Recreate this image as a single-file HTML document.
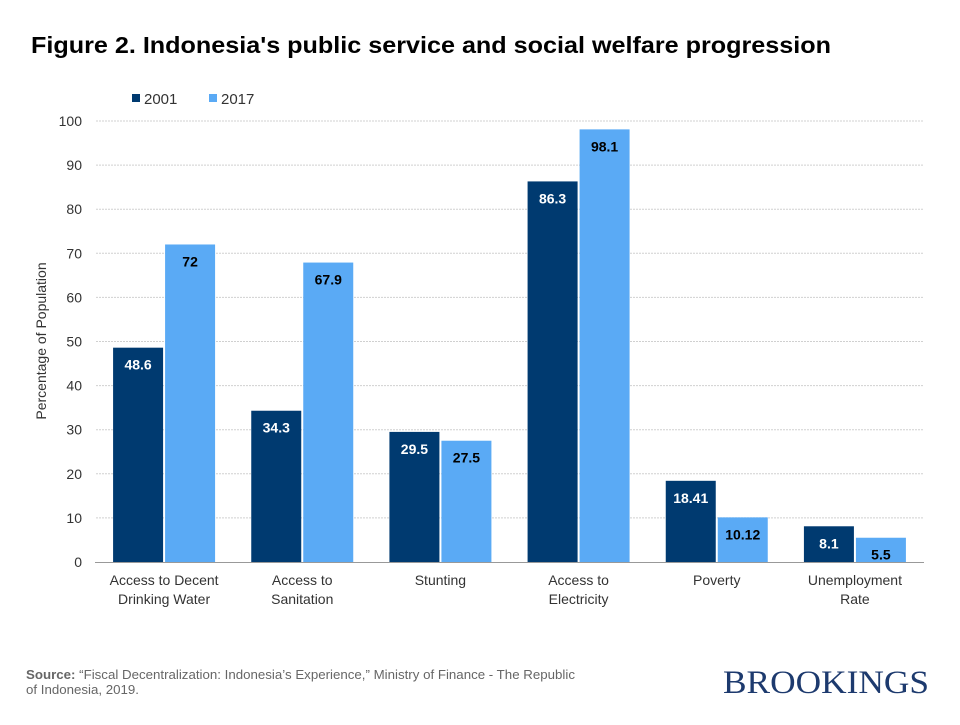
<!DOCTYPE html>
<html><head><meta charset="utf-8"><style>
body{margin:0;background:#fff;width:960px;height:720px;overflow:hidden;font-family:"Liberation Sans",Arial,sans-serif}
</style></head><body>
<svg id="chart" width="960" height="720" font-family="Liberation Sans, Arial, sans-serif">
<text x="31" y="53" font-size="23" font-weight="bold" fill="#000" textLength="800" lengthAdjust="spacingAndGlyphs">Figure 2. Indonesia's public service and social welfare progression</text>
<g>
<rect x="132" y="94" width="8" height="8" fill="#003a70"/>
<text x="144" y="104" font-size="15" fill="#333">2001</text>
<rect x="209" y="94" width="8" height="8" fill="#5aaaf5"/>
<text x="221" y="104" font-size="15" fill="#333">2017</text>
</g>
<text transform="translate(46,341) rotate(-90)" text-anchor="middle" font-size="14" fill="#333">Percentage of Population</text>
<g id="grid"></g><g id="bars"></g><g id="labels"></g>
<text x="26" y="679" font-size="13" fill="#666" textLength="549" lengthAdjust="spacingAndGlyphs"><tspan font-weight="bold">Source:</tspan> “Fiscal Decentralization: Indonesia’s Experience,” Ministry of Finance - The Republic</text>
<text x="26" y="694" font-size="13" fill="#666" textLength="113" lengthAdjust="spacingAndGlyphs">of Indonesia, 2019.</text>
<text x="929" y="693" text-anchor="end" font-family="Liberation Serif, serif" font-size="33" fill="#1d3a6e" textLength="206" lengthAdjust="spacingAndGlyphs">BROOKINGS</text>
</svg>
<script>
const categories=[["Access to Decent","Drinking Water"],["Access to","Sanitation"],["Stunting"],["Access to","Electricity"],["Poverty"],["Unemployment","Rate"]];
const values2001=[48.6,34.3,29.5,86.3,18.41,8.1];
const values2017=[72,67.9,27.5,98.1,10.12,5.5];
const labels2001=["48.6","34.3","29.5","86.3","18.41","8.1"];
const labels2017=["72","67.9","27.5","98.1","10.12","5.5"];
const yTicks=[0,10,20,30,40,50,60,70,80,90,100];
const NS="http://www.w3.org/2000/svg";
const x0=95,x1=924,y0=562,y1=121;
const band=(x1-x0)/categories.length;
const y=v=>y0-(v/100)*(y0-y1);
function mk(t,a,p){const e=document.createElementNS(NS,t);for(const k in a)e.setAttribute(k,a[k]);p.appendChild(e);return e;}
const grid=document.getElementById('grid'),bars=document.getElementById('bars'),labels=document.getElementById('labels');
yTicks.forEach(t=>{
 if(t>0){const l=mk('line',{x1:x0+1,x2:x1,y1:y(t),y2:y(t),stroke:'#d0d0d0','stroke-dasharray':'2,1'},grid);
 
 }
 const tx=mk('text',{x:82,y:y(t)+5,'text-anchor':'end','font-size':14,fill:'#333'},grid);tx.textContent=t;
 
 
});
const ax=mk('line',{x1:x0,x2:x1,y1:y0+0.5,y2:y0+0.5,stroke:'#999'},grid);


categories.forEach((c,i)=>{
 const cx=x0+band*(i+0.5),bw=50;
 [[values2001,labels2001,'#003a70',cx-bw-1,'2001'],[values2017,labels2017,'#5aaaf5',cx+1,'2017']].forEach(([vals,labs,col,bx,s])=>{
  const r=mk('rect',{x:bx,y:y(vals[i]),width:bw,height:y0-y(vals[i]),fill:col},bars);
  
  
  const t=mk('text',{x:bx+bw/2,y:y(vals[i])+22,'text-anchor':'middle','font-size':14,'font-weight':'bold',fill:s==='2001'?'#fff':'#000'},labels);
  t.textContent=labs[i];
  
  
 });
 c.forEach((ln,j)=>{const t=mk('text',{x:cx,y:585+j*19,'text-anchor':'middle','font-size':14,fill:'#333'},labels);t.textContent=ln;
  
  });
});
</script>
</body></html>
